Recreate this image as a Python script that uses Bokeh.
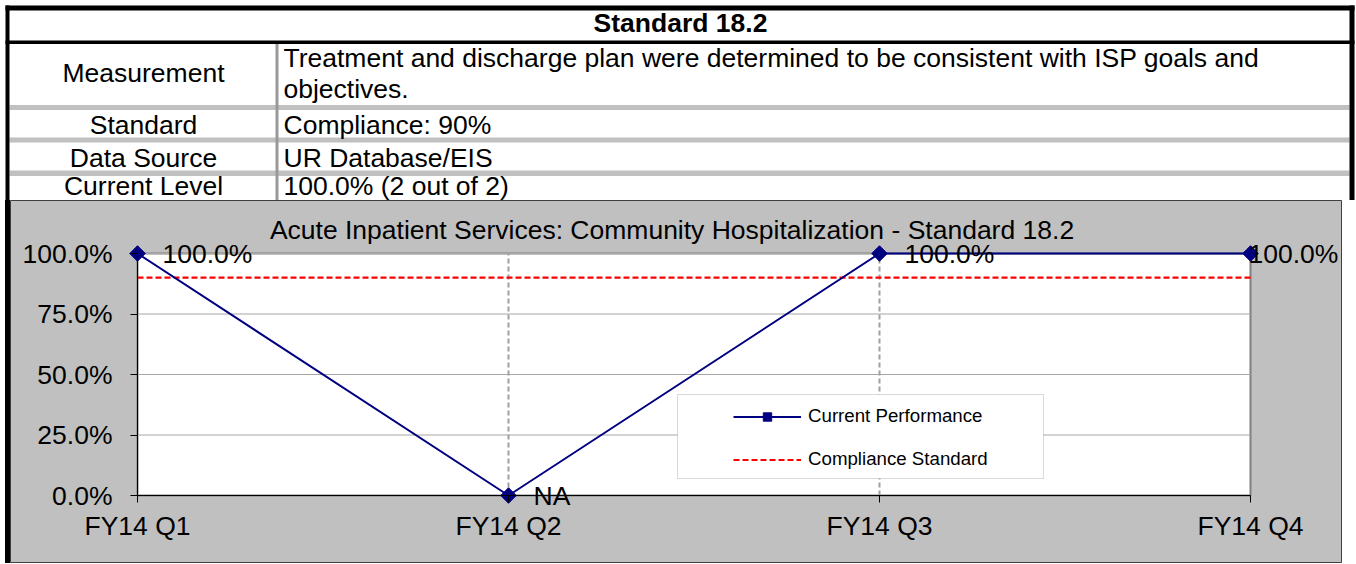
import math
from bokeh.plotting import figure
from bokeh.models import (Range1d, FixedTicker, Label, LabelSet, Legend, LegendItem,
                          ColumnDataSource, BoxAnnotation, Div, LinearAxis)
from bokeh.layouts import column, row
from bokeh.embed import file_html
from bokeh.resources import INLINE
from bokeh.core.properties import value

# ---------------- data ----------------
quarters = ["FY14 Q1", "FY14 Q2", "FY14 Q3", "FY14 Q4"]
performance = [1.0, 0.0, 1.0, 1.0]
performance_labels = ["100.0%", "NA", "100.0%", "100.0%"]
compliance = [0.9, 0.9, 0.9, 0.9]
y_ticks = [0.0, 0.25, 0.5, 0.75, 1.0]
y_tick_labels = ["0.0%", "25.0%", "50.0%", "75.0%", "100.0%"]

table_title = "Standard 18.2"
table_labels = ["Measurement", "Standard", "Data Source", "Current Level"]
table_values = [
    "Treatment and discharge plan were determined to be consistent with ISP goals and",
    "objectives.",
    "Compliance: 90%",
    "UR Database/EIS",
    "100.0% (2 out of 2)",
]
chart_title = "Acute Inpatient Services: Community Hospitalization - Standard 18.2"
series_names = ["Current Performance", "Compliance Standard"]

FONT = "Liberation Sans"
BIG = "26.5px"
NAVY = "#000080"

# ---------------- table figure (coordinates = page pixels) ----------------
W, TH = 1356, 200
t = figure(width=W, height=TH, x_range=Range1d(0, W), y_range=Range1d(TH, 0),
           output_backend="svg", toolbar_location=None, min_border=0,
           x_axis_location=None, y_axis_location=None,
           background_fill_color="white", border_fill_color="white")
t.grid.visible = False
t.outline_line_color = None

# light gray row separators
t.quad(left=[9] * 3, right=[1349] * 3, top=[104.5, 137, 170], bottom=[109.5, 142, 175.5],
       fill_color="#C0C0C0", line_color=None)
# vertical column separator
t.quad(left=[275], right=[278], top=[43.5], bottom=[TH], fill_color="#999999", line_color=None)
# black frame lines
t.quad(left=[5, 5, 1349, 5], right=[1354, 9, 1354, 1354], top=[5, 5, 5, 40],
       bottom=[10, TH, TH, 43.5], fill_color="black", line_color=None)

t.text(x=[680], y=[22.5], text=[table_title], text_font=value(FONT), text_font_size=BIG,
       text_font_style="bold", text_align="center", text_baseline="middle", text_color="black")
t.text(x=[143] * 4, y=[72.5, 124.5, 157, 185.5], text=table_labels, text_font=value(FONT),
       text_font_size=BIG, text_align="center", text_baseline="middle", text_color="black")
t.text(x=[283] * 5, y=[57.5, 88.5, 124.5, 157, 185.5], text=table_values, text_font=value(FONT),
       text_font_size=BIG, text_align="left", text_baseline="middle", text_color="black")

# ---------------- chart figure ----------------
# chart box: page x 10..1342, y 200..563 ; plot area x 137..1250, y 253..495
CW, CH = 1332, 363
PX = 371.0   # px per category step
PY = 242.0   # px per 100%
x_lo, x_hi = -(137 - 10) / PX, 3 + (1342 - 1250) / PX
y_lo, y_hi = -(563 - 495) / PY, 1 + (253 - 200) / PY

c = figure(width=CW, height=CH, x_range=Range1d(x_lo, x_hi), y_range=Range1d(y_lo, y_hi),
           output_backend="svg", toolbar_location=None, min_border=0,
           x_axis_location=None, y_axis_location=None,
           background_fill_color="#C0C0C0", border_fill_color="#C0C0C0")
c.grid.visible = False
c.outline_line_color = "#404040"
c.outline_line_width = 1

n = len(quarters)
xs = list(range(n))

# plot area
c.quad(left=[0], right=[n - 1], bottom=[0], top=[1], fill_color="white",
       line_color="#808080", line_width=2, level="image")
# gridlines
c.segment(x0=[0] * (len(y_ticks) - 1), x1=[n - 1] * (len(y_ticks) - 1),
          y0=y_ticks[1:], y1=y_ticks[1:], line_color="#A6A6A6", line_width=1, level="underlay")
c.segment(x0=xs[1:-1], x1=xs[1:-1], y0=[0] * (n - 2), y1=[1] * (n - 2),
          line_color="#A0A0A0", line_width=2, line_dash="5 3", level="underlay")

# axes at fixed data locations
xax = LinearAxis(fixed_location=0, bounds=(0, n - 1), ticker=FixedTicker(ticks=xs),
                 major_label_overrides={i: q for i, q in enumerate(quarters)})
yax = LinearAxis(fixed_location=0, bounds=(0, 1), ticker=FixedTicker(ticks=y_ticks),
                 major_label_overrides={v: s for v, s in zip(y_ticks, y_tick_labels)})
for ax in (xax, yax):
    ax.axis_line_color = "black"
    ax.axis_line_width = 1
    ax.major_tick_line_color = "black"
    ax.major_tick_out = 7
    ax.major_tick_in = 0
    ax.minor_tick_out = 0
    ax.minor_tick_in = 0
    ax.major_label_text_font = FONT
    ax.major_label_text_font_size = BIG
    ax.major_label_text_color = "black"
xax.major_label_standoff = 8
yax.major_label_standoff = 18
c.add_layout(xax, "below")
c.add_layout(yax, "left")

src = ColumnDataSource(dict(x=xs, y=performance, lab=performance_labels,
                            dx=[25] * (n - 1) + [-2]))
comp_src = ColumnDataSource(dict(x=xs, y=compliance))

red_r = c.line("x", "y", source=comp_src, line_color="#FF0000", line_width=2.2, line_dash="6 3")
line_r = c.line("x", "y", source=src, line_color=NAVY, line_width=2)
mark_r = c.scatter("x", "y", source=src, marker="square", angle=math.pi / 4, size=11,
                   fill_color=NAVY, line_color=NAVY)

c.add_layout(LabelSet(x="x", y="y", text="lab", source=src, x_offset="dx", y_offset=0,
                      text_font=value(FONT), text_font_size=BIG, text_color="black",
                      text_align="left", text_baseline="middle"))

# chart title centred on the chart box
c.add_layout(Label(x=(671.5 - 137) / PX, y=1 + (253 - 229) / PY, text=chart_title,
                   text_font=FONT, text_font_size=BIG, text_color="black",
                   text_align="center", text_baseline="middle"))

# legend box
c.add_layout(BoxAnnotation(left=(677 - 137) / PX, right=(1043 - 137) / PX,
                           top=(495 - 394) / PY, bottom=(495 - 478) / PY,
                           fill_color="white", fill_alpha=1, line_color="#808080", line_width=1))
legend = Legend(items=[LegendItem(label=series_names[0], renderers=[line_r, mark_r]),
                       LegendItem(label=series_names[1], renderers=[red_r])],
                location=(733 - 10, 563 - 470), padding=0, margin=0, spacing=21,
                glyph_width=68, glyph_height=21, label_height=21, label_standoff=7,
                label_text_font=FONT, label_text_font_size="18.7px", label_text_color="black",
                border_line_alpha=0, background_fill_alpha=0)
c.add_layout(legend)

spacer = Div(text="", width=10, height=CH, margin=0,
             styles={"background": "linear-gradient(90deg, #ffffff 0px, #ffffff 5px, #000000 5px, #000000 10px)"})
layout = column(t, row(spacer, c, spacing=0), spacing=0)

open("out.html", "w").write(file_html(layout, INLINE))
